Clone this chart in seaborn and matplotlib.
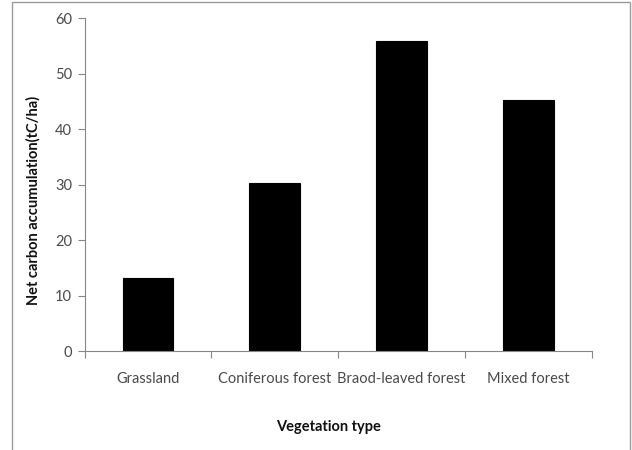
import matplotlib
matplotlib.use("Agg")
import matplotlib.pyplot as plt
from matplotlib.patches import Rectangle
import seaborn as sns
import pandas as pd

vegetation = ["Grassland", "Coniferous forest", "Braod-leaved forest", "Mixed forest"]
carbon = [13.3, 30.4, 56.0, 45.3]
y_ticks = [0, 10, 20, 30, 40, 50, 60]

df = pd.DataFrame({"Vegetation type": vegetation, "Net carbon": carbon})

sns.set_theme(style="white")
plt.rcParams["font.family"] = ["Lato", "DejaVu Sans"]

axis_gray = "#868686"
text_gray = "#4a4a4a"

fig = plt.figure(figsize=(6.32, 4.5), dpi=100)
ax = fig.add_axes([0.134, 0.2193, 0.802, 0.74])

sns.barplot(data=df, x="Vegetation type", y="Net carbon", color="black",
            width=0.4, edgecolor="black", linewidth=0.8, ax=ax)

ax.set_xlim(-0.5, len(vegetation) - 0.5)
ax.set_ylim(0, 60)
ax.set_yticks(y_ticks)
ax.set_yticklabels([str(t) for t in y_ticks])

# category ticks sit between the bars
ax.set_xticks([i - 0.5 for i in range(len(vegetation) + 1)])
ax.set_xticklabels([])
ax.set_xticks(range(len(vegetation)), minor=True)
ax.set_xticklabels(vegetation, minor=True)
ax.tick_params(axis="x", which="major", direction="out", length=5, width=0.8,
               color=axis_gray, bottom=True)
ax.tick_params(axis="x", which="minor", length=0, pad=15,
               labelsize=10.5, labelcolor=text_gray)
ax.tick_params(axis="y", direction="out", length=5, width=0.8, color=axis_gray,
               left=True, labelsize=10.5, labelcolor=text_gray, pad=4)

for side in ("top", "right"):
    ax.spines[side].set_visible(False)
for side in ("left", "bottom"):
    ax.spines[side].set_color(axis_gray)
    ax.spines[side].set_linewidth(0.8)

ax.set_xlabel("Vegetation type", fontsize=10.5, fontweight="bold",
              color="#111111", va="center")
ax.xaxis.set_label_coords(0.481, -0.227)
ax.set_ylabel("Net carbon accumulation(tC/ha)", fontsize=10.5, fontweight="bold",
              color="#111111", va="center")
ax.yaxis.set_label_coords(-0.102, 0.454)

# chart-area border
fig.patches.append(Rectangle((12 / 632, -0.05), (630 - 12) / 632, 1.05 - 2 / 450,
                             transform=fig.transFigure, fill=False,
                             edgecolor="#9a9a9a", linewidth=1.0))

fig.savefig("out.png", dpi=100)
